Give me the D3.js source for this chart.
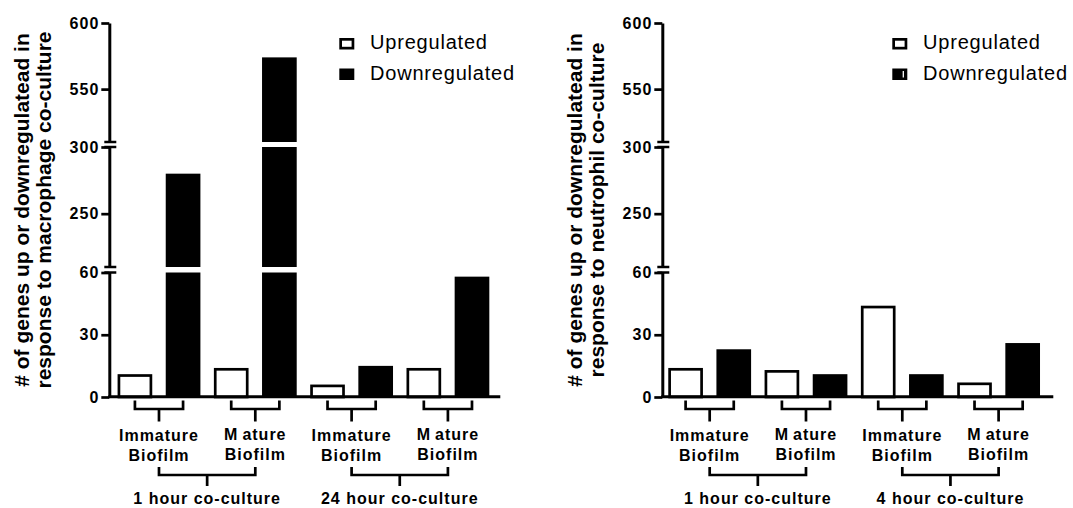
<!DOCTYPE html>
<html>
<head>
<meta charset="utf-8">
<script src="https://cdn.jsdelivr.net/npm/d3@7"></script>
<style>
  body { margin: 0; background: #fff; }
  svg { display: block; }
  text { font-family: "Liberation Sans", Arial, sans-serif; fill: #000; }
</style>
</head>
<body>
<div id="chart"></div>
<script>
// data
const seriesNames = ["Upregulated", "Downregulated"];
const pairLabels = [["Immature", "Biofilm"], ["Mature", "Biofilm"], ["Immature", "Biofilm"], ["Mature", "Biofilm"]];
const macroTimes = ["1 hour co-culture", "24 hour co-culture"];
const neutroTimes = ["1 hour co-culture", "4 hour co-culture"];
const macroUp = [11, 14, 6, 14];
const macroDown = [280, 574, 15, 58];
const neutroUp = [14, 13, 44, 7];
const neutroDown = [23, 11, 11, 26];
const segmentDomains = [[0, 60], [210, 300], [510, 600]];
const segmentTicks = [[0, 30, 60], [250, 300], [550, 600]];
const macroTitle = ["# of genes up or downregulatead in", "response to macrophage co-culture"];
const neutroTitle = ["# of genes up or downregulatead in", "response to neutrophil co-culture"];

const width = 1073, height = 508;
const svg = d3.select("#chart").append("svg")
  .attr("width", width)
  .attr("height", height);

// pixel extent of each axis segment (bottom, top)
const segRanges = [[397, 272.5], [267, 147], [142, 23]];
const axisLen = 391;
const sw = 2.7;

const drawPanel = (cfg) => {
  const g = svg.append("g");
  const ax = cfg.axisX;

  // one bar per series per pair
  const bars = [];
  cfg.up.forEach((v, i) => {
    bars.push({ key: "p" + i + "up", series: 0, value: v, pair: i });
    bars.push({ key: "p" + i + "down", series: 1, value: cfg.down[i], pair: i });
  });

  const x = d3.scaleBand()
    .domain(bars.map((d) => d.key))
    .range([ax, ax + axisLen])
    .paddingInner(0.28)
    .paddingOuter(0.2)
    .align(cfg.align);
  const bw = x.bandwidth();

  const yScales = segmentDomains.map((d, i) =>
    d3.scaleLinear().domain(d).range(segRanges[i]));

  // bars, split across the broken segments
  const pieces = [];
  bars.forEach((b) => {
    yScales.forEach((ys) => {
      const [d0, d1] = ys.domain();
      if (b.value > d0) {
        pieces.push({ bar: b, top: ys(Math.min(b.value, d1)), bottom: ys(d0) });
      }
    });
  });

  g.selectAll("rect.bar")
    .data(pieces)
    .enter()
    .append("rect")
    .attr("class", "bar")
    .attr("x", (d) => x(d.bar.key) + (d.bar.series ? 0 : sw / 2))
    .attr("y", (d) => d.top + (d.bar.series ? 0 : sw / 2))
    .attr("width", (d) => bw - (d.bar.series ? 0 : sw))
    .attr("height", (d) => d.bottom - d.top - (d.bar.series ? 0 : sw / 2))
    .style("fill", (d) => (d.bar.series ? "#000" : "#fff"))
    .style("stroke", (d) => (d.bar.series ? "none" : "#000"))
    .style("stroke-width", sw);

  // y axis, one piece per segment
  yScales.forEach((ys, i) => {
    const a = g.append("g")
      .attr("transform", "translate(" + ax + ",0)")
      .call(d3.axisLeft(ys).tickValues(segmentTicks[i]).tickSize(8).tickSizeOuter(0).tickPadding(2));
    a.select(".domain").style("stroke-width", 3);
    a.selectAll(".tick line").style("stroke-width", sw);
    a.selectAll(".tick text")
      .style("font-size", "16px")
      .style("font-weight", "bold")
      .style("letter-spacing", "1px")
      .style("font-family", "'Liberation Sans', Arial, sans-serif");
  });

  // break marks
  for (let i = 0; i < segRanges.length - 1; i++) {
    [segRanges[i][1], segRanges[i + 1][0]].forEach((yy) => {
      g.append("line")
        .attr("x1", ax - 5).attr("x2", ax + 7)
        .attr("y1", yy).attr("y2", yy)
        .attr("stroke", "#000")
        .attr("stroke-width", 2.5);
    });
  }

  // x axis line
  g.append("line")
    .attr("x1", ax - 1).attr("x2", ax + axisLen)
    .attr("y1", 396.7).attr("y2", 396.7)
    .attr("stroke", "#000")
    .attr("stroke-width", 3);

  // brackets under each pair
  const center = (b) => x(b.key) + bw / 2;
  const pairCenters = [];
  cfg.up.forEach((v, i) => {
    const c0 = center(bars[2 * i]);
    const c1 = center(bars[2 * i + 1]);
    const mid = (c0 + c1) / 2;
    pairCenters.push(mid);
    g.append("path")
      .attr("d", "M" + c0 + ",400.5V409H" + c1 + "V400.5M" + mid + ",409V421.5")
      .attr("fill", "none")
      .attr("stroke", "#000")
      .attr("stroke-width", sw);

    const t = g.append("text")
      .attr("text-anchor", "middle")
      .style("font-size", "16px")
      .style("font-weight", "bold")
      .style("letter-spacing", "1px");
    // first line: the original has a wide gap after a capital M
    const first = pairLabels[i][0];
    const l1 = t.append("tspan").attr("x", mid).attr("y", first.startsWith("M") ? 440 : 441);
    if (first.startsWith("M")) {
      l1.append("tspan").text(first[0]);
      l1.append("tspan").attr("dx", 4).text(first.slice(1));
    } else {
      l1.text(first);
    }
    t.append("tspan").attr("x", mid).attr("y", first.startsWith("M") ? 460 : 461).text(pairLabels[i][1]);
  });

  // brackets under each time point
  cfg.times.forEach((label, j) => {
    const c0 = pairCenters[2 * j];
    const c1 = pairCenters[2 * j + 1];
    const mid = (c0 + c1) / 2;
    g.append("path")
      .attr("d", "M" + c0 + ",467V475H" + c1 + "V467M" + mid + ",475V486")
      .attr("fill", "none")
      .attr("stroke", "#000")
      .attr("stroke-width", sw);
    g.append("text")
      .attr("x", mid)
      .attr("y", 504)
      .attr("text-anchor", "middle")
      .style("font-size", "16px")
      .style("font-weight", "bold")
      .style("letter-spacing", "1px")
      .text(label);
  });

  // y title
  cfg.title.forEach((line, k) => {
    g.append("text")
      .attr("transform", "translate(" + (ax - 80.3 + k * 22) + ",210) rotate(-90)")
      .attr("text-anchor", "middle")
      .style("font-size", "21px")
      .style("font-weight", "bold")
      .text(line);
  });

  // legend
  seriesNames.forEach((name, k) => {
    const ly = 38 + k * 30.5;
    g.append("rect")
      .attr("x", ax + 230 + (k ? 0 : sw / 2))
      .attr("y", ly + (k ? 0 : sw / 2))
      .attr("width", 15 - (k ? 0 : sw))
      .attr("height", 11.5 - (k ? 0 : sw))
      .style("fill", k ? "#000" : "#fff")
      .style("stroke", k ? "none" : "#000")
      .style("stroke-width", sw);
    if (k && cfg.legendNotch) {
      g.append("line")
        .attr("x1", ax + 241).attr("x2", ax + 241)
        .attr("y1", ly + 2.5).attr("y2", ly + 9)
        .attr("stroke", "#fff")
        .attr("stroke-width", 1.3);
    }
    g.append("text")
      .attr("x", ax + 260.7)
      .attr("y", ly + 11.3)
      .style("font-size", "20px")
      .style("letter-spacing", "0.8px")
      .text(name);
  });
};

drawPanel({ axisX: 109.3, align: 0.43, up: macroUp, down: macroDown, times: macroTimes, title: macroTitle, legendNotch: false });
drawPanel({ axisX: 662.3, align: 0.31, up: neutroUp, down: neutroDown, times: neutroTimes, title: neutroTitle, legendNotch: true });
</script>
</body>
</html>
